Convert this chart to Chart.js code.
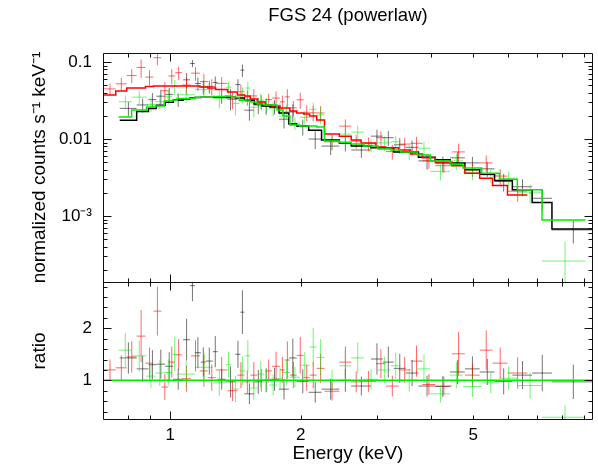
<!DOCTYPE html>
<html>
<head>
<meta charset="utf-8">
<script src="https://cdn.jsdelivr.net/npm/chart.js"></script>
<style>
  body { margin: 0; background: #fff; }
  #wrap { width: 598px; height: 467px; }
</style>
</head>
<body>
<div id="wrap"><canvas id="spec"></canvas></div>
<script>
// axis ranges
const xMin = 0.7036, xMax = 9.44;
const fluxMin = 1.39e-4, fluxMax = 0.131;
const ratioMin = 0.237, ratioMax = 2.89;

// black group: bin edges (keV), counts, errors, model, ratio
const blackEdges = [0.765,0.837,0.891,0.929,0.974,1.016,1.071,1.111,1.140,1.177,1.208,1.254,1.287,1.342,1.414,1.452,1.483,1.563,1.630,1.699,1.782,1.878,1.958,2.086,2.234,2.455,2.615,2.904,3.092,3.277,3.490,3.736,4.086,4.420,4.781,5.173,5.598,6.152,6.833,7.591,9.414];
const blackFlux = [0.0250,0.0277,0.0325,0.0360,0.0380,0.0326,0.0587,0.0959,0.0528,0.0473,0.0480,0.0543,0.0357,0.0340,0.0510,0.0785,0.0237,0.0276,0.0268,0.0265,0.0181,0.0225,0.0145,0.0100,0.0081,0.0089,0.0072,0.0109,0.0104,0.0084,0.0078,0.0052,0.0048,0.0057,0.0049,0.0041,0.0028,0.0024,0.0017,0.00066];
const blackFluxErr = [0.0053,0.0057,0.0070,0.0077,0.0081,0.0064,0.0132,0.0102,0.0104,0.0098,0.0091,0.0105,0.0070,0.0105,0.0088,0.0143,0.0064,0.0066,0.0062,0.0057,0.0044,0.0058,0.0034,0.0026,0.0019,0.0020,0.0015,0.0023,0.0023,0.0019,0.0017,0.0012,0.0011,0.0011,0.00096,0.00088,0.00073,0.00059,0.00053,0.00022];
const blackModel = [0.0175,0.0227,0.0250,0.0275,0.0300,0.0320,0.0330,0.0340,0.0345,0.0350,0.0350,0.0350,0.0350,0.0350,0.0340,0.0340,0.0320,0.0285,0.0268,0.0260,0.0218,0.0157,0.0148,0.0130,0.0097,0.0089,0.0081,0.0077,0.0077,0.0068,0.0068,0.0058,0.0054,0.0049,0.0040,0.0035,0.0029,0.0022,0.0015,0.00068];
const blackRatio = [1.43,1.22,1.30,1.31,1.27,1.02,1.78,2.82,1.53,1.35,1.37,1.55,1.02,0.97,1.50,2.31,0.74,0.97,1.00,1.02,0.83,1.43,0.98,0.77,0.83,1.00,0.89,1.41,1.35,1.23,1.14,0.89,0.88,1.16,1.22,1.16,0.98,1.10,1.14,0.97];
const blackRatioErr = [0.30,0.25,0.28,0.28,0.27,0.20,0.40,0.30,0.30,0.28,0.26,0.30,0.20,0.30,0.26,0.42,0.20,0.23,0.23,0.22,0.20,0.37,0.23,0.20,0.20,0.22,0.18,0.30,0.30,0.28,0.25,0.20,0.20,0.23,0.24,0.25,0.25,0.27,0.35,0.33];

// red group
const redEdges = [0.704,0.749,0.794,0.837,0.877,0.915,0.954,0.990,1.027,1.065,1.117,1.171,1.221,1.273,1.356,1.429,1.483,1.530,1.588,1.656,1.718,1.791,1.838,1.888,1.958,2.032,2.097,2.177,2.269,2.455,2.615,2.755,2.981,3.142,3.364,3.583,3.815,4.086,4.467,4.781,5.173,5.538,5.995,6.659];
const redFlux = [0.0448,0.0521,0.0667,0.0851,0.0638,0.1137,0.0425,0.0659,0.0727,0.0503,0.0717,0.0559,0.0483,0.0528,0.0326,0.0410,0.0351,0.0363,0.0303,0.0327,0.0340,0.0304,0.0352,0.0254,0.0323,0.0222,0.0219,0.0218,0.0092,0.0147,0.0094,0.0087,0.0104,0.0069,0.0086,0.0088,0.0052,0.0045,0.0068,0.0040,0.0049,0.0033,0.0021];
const redFluxErr = [0.0075,0.0101,0.0138,0.0230,0.0144,0.0229,0.0122,0.0146,0.0146,0.0122,0.0146,0.0142,0.0115,0.0110,0.0082,0.0093,0.0080,0.0083,0.0067,0.0061,0.0075,0.0063,0.0091,0.0058,0.0076,0.0053,0.0050,0.0050,0.0021,0.0033,0.0019,0.0018,0.0022,0.0015,0.0018,0.0019,0.0011,0.0009,0.0019,0.0008,0.0012,0.00075,0.00056];
const redModel = [0.0373,0.0420,0.0460,0.0460,0.0480,0.0488,0.0488,0.0488,0.0488,0.0488,0.0488,0.0474,0.0460,0.0440,0.0408,0.0373,0.0362,0.0330,0.0303,0.0277,0.0268,0.0253,0.0253,0.0231,0.0218,0.0211,0.0199,0.0177,0.0116,0.0109,0.0097,0.0089,0.0079,0.0077,0.0072,0.0064,0.0057,0.0050,0.0045,0.0036,0.0031,0.0025,0.00187];
const redRatio = [1.20,1.24,1.45,1.85,1.33,2.33,0.87,1.35,1.49,1.03,1.47,1.18,1.05,1.20,0.80,1.10,0.97,1.10,1.00,1.18,1.27,1.20,1.39,1.10,1.48,1.05,1.10,1.23,0.79,1.35,0.97,0.98,1.32,0.89,1.20,1.37,0.92,0.89,1.51,1.10,1.58,1.33,1.14];
const redRatioErr = [0.20,0.24,0.30,0.50,0.30,0.47,0.25,0.30,0.30,0.25,0.30,0.30,0.25,0.25,0.20,0.25,0.22,0.25,0.22,0.22,0.28,0.25,0.36,0.25,0.35,0.25,0.25,0.28,0.18,0.30,0.20,0.20,0.28,0.20,0.25,0.30,0.20,0.18,0.42,0.22,0.38,0.30,0.30];

// green group
const greenEdges = [0.761,0.815,0.882,0.924,0.969,1.011,1.037,1.140,1.254,1.342,1.385,1.444,1.491,1.530,1.588,1.647,1.691,1.764,1.820,1.888,1.990,2.097,2.177,2.269,2.455,2.615,2.799,3.012,3.225,3.400,3.716,3.979,4.420,4.732,5.229,5.746,6.317,7.202,9.075];
const greenFlux = [0.0305,0.0350,0.0281,0.0306,0.0359,0.0480,0.0376,0.0438,0.0338,0.0471,0.0290,0.0378,0.0459,0.0258,0.0319,0.0277,0.0252,0.0245,0.0229,0.0161,0.0191,0.0243,0.0206,0.0094,0.0116,0.0123,0.0083,0.0089,0.0092,0.0068,0.0076,0.0038,0.0052,0.0037,0.0034,0.0031,0.0020,0.00026];
const greenFluxErr = [0.0064,0.0071,0.0057,0.0067,0.0078,0.0106,0.0084,0.0098,0.0089,0.0090,0.0088,0.0090,0.0094,0.0067,0.0071,0.0061,0.0055,0.0052,0.0050,0.0030,0.0037,0.0055,0.0050,0.0019,0.0027,0.0026,0.0016,0.0019,0.0018,0.0015,0.0017,0.0009,0.0012,0.0008,0.0007,0.0007,0.00055,0.0002];
const greenModel = [0.0193,0.0238,0.0260,0.0268,0.0312,0.0320,0.0336,0.0350,0.0356,0.0362,0.0350,0.0320,0.0312,0.0303,0.0285,0.0277,0.0277,0.0238,0.0199,0.0152,0.0148,0.0148,0.0143,0.0094,0.0091,0.0086,0.0081,0.0074,0.0072,0.0068,0.0062,0.0052,0.0047,0.0042,0.0036,0.0030,0.0022,0.00089];
const greenRatio = [1.58,1.47,1.08,1.14,1.15,1.50,1.12,1.25,0.95,1.30,0.83,1.18,1.47,0.85,1.12,1.00,0.91,1.03,1.15,1.06,1.29,1.64,1.44,1.00,1.28,1.43,1.02,1.20,1.28,1.00,1.22,0.74,1.10,0.88,0.95,1.04,0.90,0.29];
const greenRatioErr = [0.33,0.30,0.22,0.25,0.25,0.33,0.25,0.28,0.25,0.25,0.25,0.28,0.30,0.22,0.25,0.22,0.20,0.22,0.25,0.20,0.25,0.37,0.35,0.20,0.30,0.30,0.20,0.25,0.25,0.22,0.27,0.17,0.25,0.20,0.20,0.23,0.25,0.23];

// each bin -> horizontal bar over the bin plus vertical error bar, gaps between
function crosses(edges, vals, errs) {
  const pts = [];
  for (let i = 0; i < vals.length; i++) {
    const lo = edges[i], hi = edges[i + 1], mid = (lo + hi) / 2;
    pts.push({x: lo, y: vals[i]}, {x: hi, y: vals[i]}, {x: mid, y: null});
    pts.push({x: mid, y: Math.max(vals[i] - errs[i], 1e-6)}, {x: mid, y: vals[i] + errs[i]}, {x: mid, y: null});
  }
  return pts;
}

// histogram steps of the folded model
function steps(edges, vals) {
  const pts = vals.map((v, i) => ({x: edges[i], y: v}));
  pts.push({x: edges[edges.length - 1], y: vals[vals.length - 1]});
  return pts;
}

function dataSet(pts, color, axis, order) {
  return { data: pts, yAxisID: axis, borderColor: color, borderWidth: 1, pointRadius: 0, order: order };
}
function modelSet(pts, color, order) {
  return { data: pts, yAxisID: 'y', borderColor: color, borderWidth: 1.5, pointRadius: 0, stepped: 'before', order: order };
}

const BLK = 'rgba(0,0,0,0.55)', RED = 'rgba(255,0,0,0.6)', GRN = 'rgba(0,235,0,0.55)';

const datasets = [
  dataSet(crosses(blackEdges, blackFlux, blackFluxErr), BLK, 'y', 6),
  dataSet(crosses(redEdges, redFlux, redFluxErr), RED, 'y', 5),
  dataSet(crosses(greenEdges, greenFlux, greenFluxErr), GRN, 'y', 4),
  modelSet(steps(blackEdges, blackModel), '#000', 3),
  modelSet(steps(redEdges, redModel), '#ff0000', 2),
  modelSet(steps(greenEdges, greenModel), '#00ec00', 1),
  dataSet(crosses(blackEdges, blackRatio, blackRatioErr), BLK, 'yr', 6),
  dataSet(crosses(redEdges, redRatio, redRatioErr), RED, 'yr', 5),
  dataSet(crosses(greenEdges, greenRatio, greenRatioErr), GRN, 'yr', 4),
  { data: [{x: xMin, y: 1}, {x: xMax, y: 1}], yAxisID: 'yr', borderColor: '#00ec00', borderWidth: 1.5, pointRadius: 0, order: 0 }
];

function isNear(a, b) { return Math.abs(a - b) < 1e-6 * Math.max(1, Math.abs(b)); }

// frame with inward ticks on every side of both panels
const frame = {
  id: 'frame',
  afterDraw(chart) {
    const {ctx, scales} = chart;
    const x = scales.x, yt = scales.y, yr = scales.yr;
    const L = Math.round(x.left) + 0.5, R = Math.round(x.right) - 0.5;
    const T = Math.round(yt.top) + 0.5, M = Math.round(yt.bottom) + 0.5, B = Math.round(yr.bottom) - 0.5;
    ctx.save();
    ctx.strokeStyle = '#111';
    ctx.lineWidth = 1;
    ctx.beginPath();
    ctx.rect(L, T, R - L, M - T);
    ctx.rect(L, M, R - L, B - M);
    const xt = [0.8, 0.9, 1, 2, 3, 4, 5, 6, 7, 8, 9];
    xt.forEach(v => {
      const p = Math.round(x.getPixelForValue(v)) + 0.5;
      const len = v === 1 ? 8 : 4;
      ctx.moveTo(p, T); ctx.lineTo(p, T + len);
      ctx.moveTo(p, M); ctx.lineTo(p, M - len);
      ctx.moveTo(p, M); ctx.lineTo(p, M + len);
      ctx.moveTo(p, B); ctx.lineTo(p, B - len);
    });
    for (let d = -4; d <= -1; d++) {
      for (let m = 1; m <= 9; m++) {
        const v = m * Math.pow(10, d);
        if (v < fluxMin || v > fluxMax) continue;
        const p = Math.round(yt.getPixelForValue(v)) + 0.5;
        const len = m === 1 ? 8 : 4;
        ctx.moveTo(L, p); ctx.lineTo(L + len, p);
        ctx.moveTo(R, p); ctx.lineTo(R - len, p);
      }
    }
    for (let k = 2; k <= 14; k++) {
      const v = k * 0.2;
      const p = Math.round(yr.getPixelForValue(v)) + 0.5;
      const len = (k === 5 || k === 10) ? 8 : 4;
      ctx.moveTo(L, p); ctx.lineTo(L + len, p);
      ctx.moveTo(R, p); ctx.lineTo(R - len, p);
    }
    ctx.stroke();
    ctx.restore();
  }
};

Chart.defaults.font.family = "'Liberation Sans', Arial, sans-serif";
Chart.defaults.color = '#000';

new Chart(document.getElementById('spec'), {
  type: 'line',
  data: { datasets: datasets },
  plugins: [frame],
  options: {
    responsive: true,
    maintainAspectRatio: false,
    animation: false,
    layout: { padding: { top: 0, right: 1, bottom: 0, left: 0 } },
    plugins: {
      legend: { display: false },
      tooltip: { enabled: false },
      title: {
        display: true, text: 'FGS 24 (powerlaw)', fullSize: false,
        font: { size: 18.5, weight: 'normal', lineHeight: 1.2 },
        padding: { top: 5, bottom: 25.8 }
      }
    },
    scales: {
      x: {
        type: 'logarithmic', position: 'bottom', min: xMin, max: xMax,
        grid: { display: false, drawTicks: false }, border: { display: false },
        ticks: {
          autoSkip: false, maxRotation: 0, padding: 5, font: { size: 17 },
          callback: v => [1, 2, 5].find(t => isNear(v, t)) ? String([1, 2, 5].find(t => isNear(v, t))) : ''
        },
        title: { display: true, text: 'Energy (keV)', font: { size: 19 }, padding: { top: 0, bottom: 2 } },
        afterFit: s => { s.height = 47; }
      },
      y: {
        type: 'logarithmic', position: 'left', stack: 'panels', stackWeight: 229, weight: 1,
        min: fluxMin, max: fluxMax,
        grid: { display: false, drawTicks: false }, border: { display: false },
        ticks: {
          autoSkip: false, padding: 11, font: { size: 17 },
          callback: v => {
            const e = Math.log10(v), k = Math.round(e);
            if (Math.abs(e - k) > 1e-6) return '';
            return k === -1 ? '0.1' : k === -2 ? '0.01' : k === -3 ? '10\u207B\u00B3' : '';
          }
        },
        title: { display: true, text: 'normalized counts s\u207B\u00B9 keV\u207B\u00B9', font: { size: 19 }, padding: { top: 28, bottom: 0 } },
        afterFit: s => { s.width = 103; }
      },
      yr: {
        type: 'linear', position: 'left', stack: 'panels', stackWeight: 138, weight: 0,
        min: ratioMin, max: ratioMax,
        grid: { display: false, drawTicks: false }, border: { display: false },
        ticks: {
          autoSkip: false, stepSize: 0.2, includeBounds: false, padding: 11, font: { size: 17 },
          callback: v => isNear(v, 1) ? '1' : isNear(v, 2) ? '2' : ''
        },
        title: { display: true, text: 'ratio', font: { size: 19 }, padding: { top: 28, bottom: 0 } },
        afterFit: s => { s.width = 103; }
      }
    }
  }
});
</script>
</body>
</html>
